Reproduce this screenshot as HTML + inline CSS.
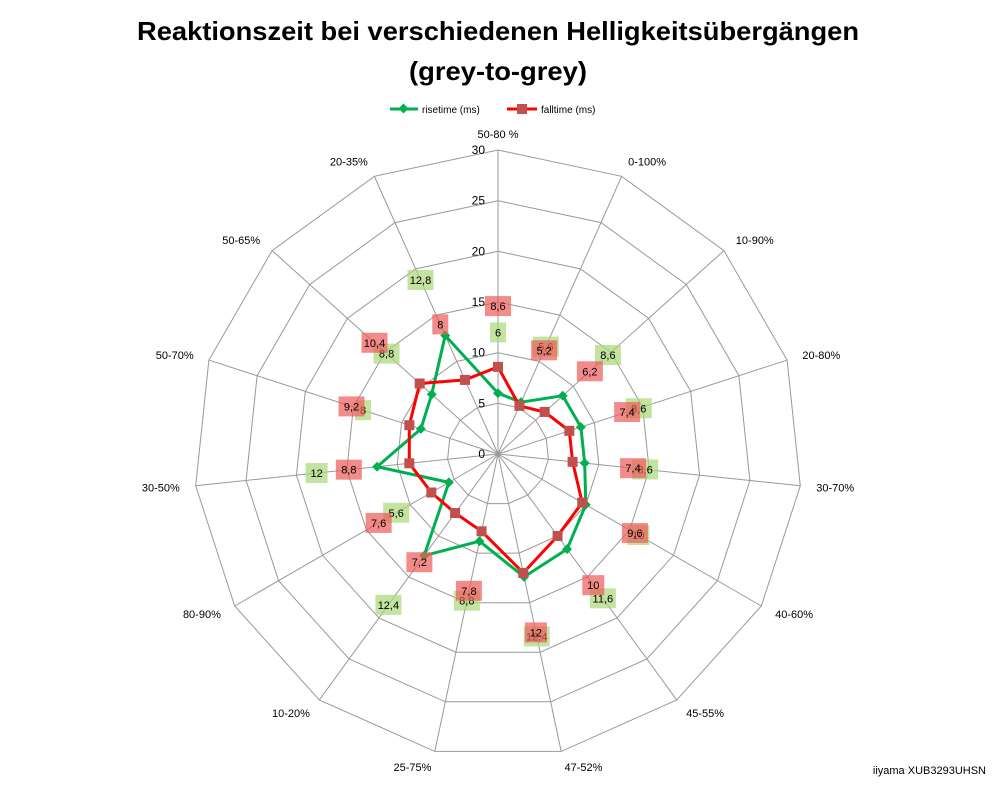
<!DOCTYPE html>
<html><head><meta charset="utf-8"><style>
body{margin:0;background:#fff}
svg text{font-family:"Liberation Sans",sans-serif}
</style></head><body>
<svg id="chart" width="998" height="786" viewBox="0 0 998 786" xmlns="http://www.w3.org/2000/svg">
<text x="498" y="40" text-anchor="middle" font-size="26" font-weight="bold" textLength="722" lengthAdjust="spacingAndGlyphs">Reaktionszeit bei verschiedenen Helligkeitsübergängen</text>
<text x="498" y="80" text-anchor="middle" font-size="26" font-weight="bold" textLength="178" lengthAdjust="spacingAndGlyphs">(grey-to-grey)</text>
<g>
<g>
<line x1="390" y1="109" x2="418" y2="109" stroke="#00b050" stroke-width="3"/>
<rect x="400" y="105" width="7" height="7" fill="#00b050" transform="rotate(45 403.5 108.5)"/>
<text x="422" y="113" font-size="10">risetime (ms)</text></g>
<g>
<line x1="507" y1="109" x2="537" y2="109" stroke="#ff0000" stroke-width="3"/>
<rect x="517" y="104" width="10" height="10" fill="#c0504d"/>
<text x="541" y="113" font-size="10">falltime (ms)</text></g>
</g>
<g id="grid"></g>
<g id="series"></g>
<g id="labels"></g>
<text x="986" y="774" text-anchor="end" font-size="11">iiyama XUB3293UHSN</text>
</svg>
<script>
const categories=["50-80 %","0-100%","10-90%","20-80%","30-70%","40-60%","45-55%","47-52%","25-75%","10-20%","80-90%","30-50%","50-70%","50-65%","20-35%"];
const riseValues=[6,5.6,8.6,8.6,8.6,10,11.6,12.4,8.8,12.4,5.6,12,8,8.8,12.8];
const fallValues=[8.6,5.2,6.2,7.4,7.4,9.6,10,12,7.8,7.2,7.6,8.8,9.2,10.4,8];
const tickValues=[0,5,10,15,20,25,30];
const cx=498,cy=454,R=304,maxV=30;
const NS="http://www.w3.org/2000/svg";
function ang(i){return i*2*Math.PI/categories.length;}
function px(i,v){return cx+Math.sin(ang(i))*v/maxV*R;}
function py(i,v){return cy-Math.cos(ang(i))*v/maxV*R;}
function mk(tag,attrs,parent){const e=document.createElementNS(NS,tag);for(const k in attrs)e.setAttribute(k,attrs[k]);parent.appendChild(e);return e;}
const grid=document.getElementById('grid'),ser=document.getElementById('series'),lab=document.getElementById('labels');
tickValues.forEach(t=>{if(t===0)return;
 const pts=categories.map((c,i)=>px(i,t).toFixed(1)+','+py(i,t).toFixed(1)).join(' ');
 const p=mk('polygon',{points:pts,fill:'none',stroke:'#999','stroke-width':1},grid);
 
 });
categories.forEach((c,i)=>{
 const l=mk('line',{x1:cx,y1:cy,x2:px(i,maxV),y2:py(i,maxV),stroke:'#999','stroke-width':1},grid);
 
 
 const s=Math.sin(ang(i));
 const lx=cx+s*(R+16), ly=cy-Math.cos(ang(i))*(R+16)+4;
 const anchor=Math.abs(s)<0.1?'middle':(s>0?'start':'end');
 const t=mk('text',{x:lx,y:ly,'font-size':11,'text-anchor':anchor},grid);
 t.textContent=c;
 
 });
tickValues.forEach(t=>{
 const e=mk('text',{x:cx-13,y:py(0,t)+4,'font-size':12,'text-anchor':'end'},grid);
 e.textContent=t;
 
 });
function drawSeries(vals,color,markColor,name,diamond){
 const pts=vals.map((v,i)=>px(i,v).toFixed(1)+','+py(i,v).toFixed(1)).join(' ');
 const pl=mk('polygon',{points:pts,fill:'none',stroke:color,'stroke-width':3,'stroke-linejoin':'round'},ser);
 
 
 vals.forEach((v,i)=>{const x=px(i,v),y=py(i,v);let m;
  if(diamond)m=mk('rect',{x:x-3.5,y:y-3.5,width:7,height:7,fill:markColor,transform:`rotate(45 ${x} ${y})`},ser);
  else m=mk('rect',{x:x-5,y:y-5,width:10,height:10,fill:markColor},ser);
  
  });
}
function drawLabels(vals,bg,name){
 vals.forEach((v,i)=>{const x=px(i,v+6),y=py(i,v+6);
  const txt=String(v).replace('.',',');const w=txt.length>2?26:(txt.length>1?22:16);
  const g=mk('g',{},lab);
  
  
  mk('rect',{x:x-w/2,y:y-10,width:w,height:20,fill:bg},g);
  const t=mk('text',{x:x,y:y+4,'font-size':11,'text-anchor':'middle'},g);t.textContent=txt;});
}
drawSeries(riseValues,'#00b050','#00b050','risetime',true);
drawSeries(fallValues,'#ff0000','#c0504d','falltime',false);
drawLabels(riseValues,'rgba(170,215,120,0.7)','risetime');
drawLabels(fallValues,'rgba(240,90,90,0.7)','falltime');
</script>
</body></html>
